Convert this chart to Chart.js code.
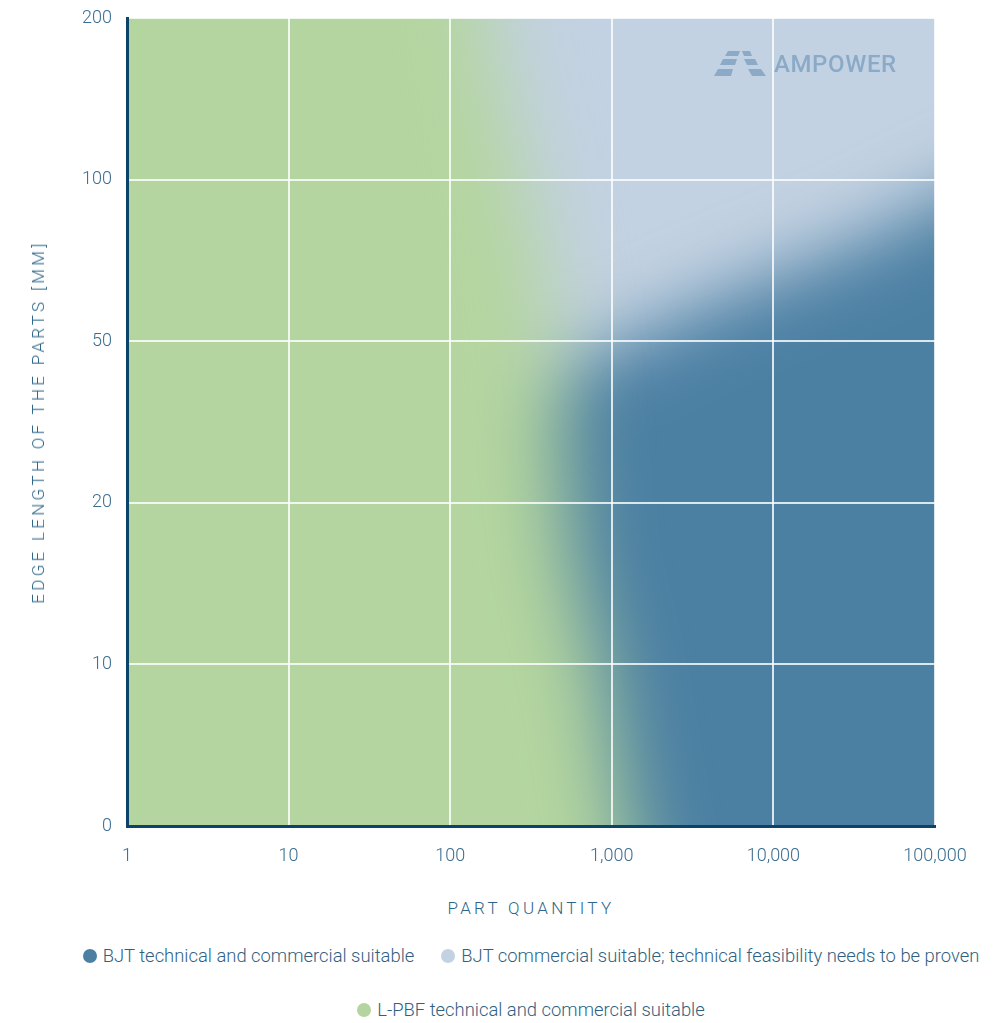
<!DOCTYPE html>
<html>
<head>
<meta charset="utf-8">
<script src="https://cdn.jsdelivr.net/npm/chart.js@4.4.1/dist/chart.umd.min.js"></script>
<style>
  html, body { margin: 0; padding: 0; background: #fff; }
  #wrap { position: relative; width: 998px; height: 1023px; font-family: Roboto, "Noto Sans", sans-serif; }
  #chart { position: absolute; left: 0; top: 0; }
  .axis-title { position: absolute; color: #2e6689; font-size: 17px; font-weight: 300; letter-spacing: 3.3px; white-space: nowrap; }
  #xTitle { left: 127px; width: 808px; top: 898px; text-align: center; }
  #yTitle { left: 38px; top: 422px; transform: translate(-50%, -50%) rotate(-90deg); }
  .legend-row { position: absolute; left: 127px; width: 808px; display: flex; justify-content: center; gap: 27px; }
  .legend-item { display: flex; align-items: center; white-space: nowrap; color: #2f5f82; font-size: 18.4px; font-weight: 300; }
  .legend-item i { display: inline-block; width: 14px; height: 14px; border-radius: 50%; margin-right: 6px; }
  #logo { position: absolute; left: 713px; top: 50px; display: flex; align-items: center; }
  #logo span { color: #8aaac8; font-size: 24px; font-weight: 500; letter-spacing: 0.6px; margin-left: 7px; line-height: 1; }
</style>
</head>
<body>
<div id="wrap">
  <canvas id="chart" width="998" height="880"></canvas>
  <div id="logo">
    <svg width="54" height="27" viewBox="0 0 54 27">
      <g fill="#8aaac8">
        <polygon points="15,1 27,1 25,6 12,6"/>
        <polygon points="29,1 37,1 39,6 31,6"/>
        <polygon points="10,9 24,9 22,15 7,15"/>
        <polygon points="31,9 42,9 45,15 34,15"/>
        <polygon points="5,19 20,19 18,26 1,26"/>
        <polygon points="35,19 48,19 53,26 39,26"/>
      </g>
    </svg>
    <span>AMPOWER</span>
  </div>
  <div class="axis-title" id="xTitle">PART QUANTITY</div>
  <div class="axis-title" id="yTitle">EDGE LENGTH OF THE PARTS [MM]</div>
  <div class="legend-row" id="legendRow1" style="top: 945px;"></div>
  <div class="legend-row" id="legendRow2" style="top: 999px;"></div>
</div>
<script>
// tick labels (x = log10 of part quantity, y = category index)
const xTickLabels = ['1', '10', '100', '1,000', '10,000', '100,000'];
const yTickLabels = ['0', '10', '20', '50', '100', '200'];

// region boundaries (x in decades, y in tick steps)
const bjtOpenX = [-1, 6];
const bjtOpenY = [6, 6];
const bjtX = [1.5, 2.4, 2.7, 3.0, 3.4, 4.0, 4.5, 5.0, 6.0];
const bjtY = [2.6, 2.7, 2.85, 2.95, 3.15, 3.4, 3.6, 3.85, 4.3];
const lpbfX = [-1, 2.1, 2.24, 2.46, 2.65, 2.72, 2.93, 3.1, 3.4, 6];
const lpbfY = [6, 6, 5, 4, 3, 2, 1, 0, -1, -1];

const legendItems = [
    { label: 'BJT technical and commercial suitable', color: '#4c80a3', row: 1 },
    { label: 'BJT commercial suitable; technical feasibility needs to be proven', color: '#c3d2e2', row: 1 },
    { label: 'L-PBF technical and commercial suitable', color: '#b4d59f', row: 2 }
];

const toPoints = (xs, ys) => xs.map((x, i) => ({ x: x, y: ys[i] }));

const area = (label, xs, ys, color, blur) => ({
    label: label,
    data: toPoints(xs, ys),
    backgroundColor: color,
    borderColor: 'transparent',
    borderWidth: 0,
    pointRadius: 0,
    fill: { value: -1 },
    cubicInterpolationMode: 'monotone',
    blur: blur
});

// soft edges between the regions: each dataset gets its own blur
const setBlur = (chart, i) => {
    const ds = chart.data.datasets[i];
    chart.ctx.filter = ds && ds.blur ? `blur(${ds.blur}px)` : 'none';
};
const softEdges = {
    id: 'softEdges',
    beforeDatasetsDraw(chart) { setBlur(chart, chart.data.datasets.length - 1); },
    afterDatasetDraw(chart, args) { setBlur(chart, args.index - 1); },
    afterDatasetsDraw(chart) { chart.ctx.filter = 'none'; }
};

const tickFont = { family: 'Roboto', size: 18, weight: 300 };
const tickColor = '#3a6d90';
const gridStyle = { color: 'rgba(255,255,255,0.8)', lineWidth: 2, drawTicks: false, z: 1 };
const borderStyle = { color: '#0c4469', width: 3, z: 2 };

new Chart(document.getElementById('chart'), {
    type: 'line',
    data: {
        datasets: [
            area('L-PBF technical and commercial suitable', lpbfX, lpbfY, '#b4d59f', 40),
            area('BJT technical and commercial suitable', bjtX, bjtY, '#4c80a3', 36),
            area('BJT commercial suitable; technical feasibility needs to be proven', bjtOpenX, bjtOpenY, '#c3d2e2', 0)
        ]
    },
    options: {
        responsive: false,
        animation: false,
        layout: { padding: { left: 0, right: 63, top: 18, bottom: 4 } },
        plugins: { legend: { display: false }, tooltip: { enabled: false } },
        scales: {
            x: {
                type: 'linear', min: 0, max: 5,
                afterFit: s => { s.height = 50; },
                ticks: { stepSize: 1, padding: 20, color: tickColor, font: tickFont,
                         callback: v => xTickLabels[v] },
                grid: gridStyle,
                border: borderStyle
            },
            y: {
                type: 'linear', min: 0, max: 5,
                afterFit: s => { s.width = 127; s.paddingTop = 0; s.paddingBottom = 0; },
                ticks: { stepSize: 1, padding: 15, color: tickColor, font: tickFont,
                         callback: v => yTickLabels[v] },
                grid: gridStyle,
                border: borderStyle
            }
        }
    },
    plugins: [softEdges]
});

// legend rows under the chart
legendItems.forEach(item => {
    const el = document.createElement('div');
    el.className = 'legend-item';
    el.innerHTML = `<i style="background:${item.color}"></i>${item.label}`;
    document.getElementById('legendRow' + item.row).appendChild(el);
});
</script>
</body>
</html>
